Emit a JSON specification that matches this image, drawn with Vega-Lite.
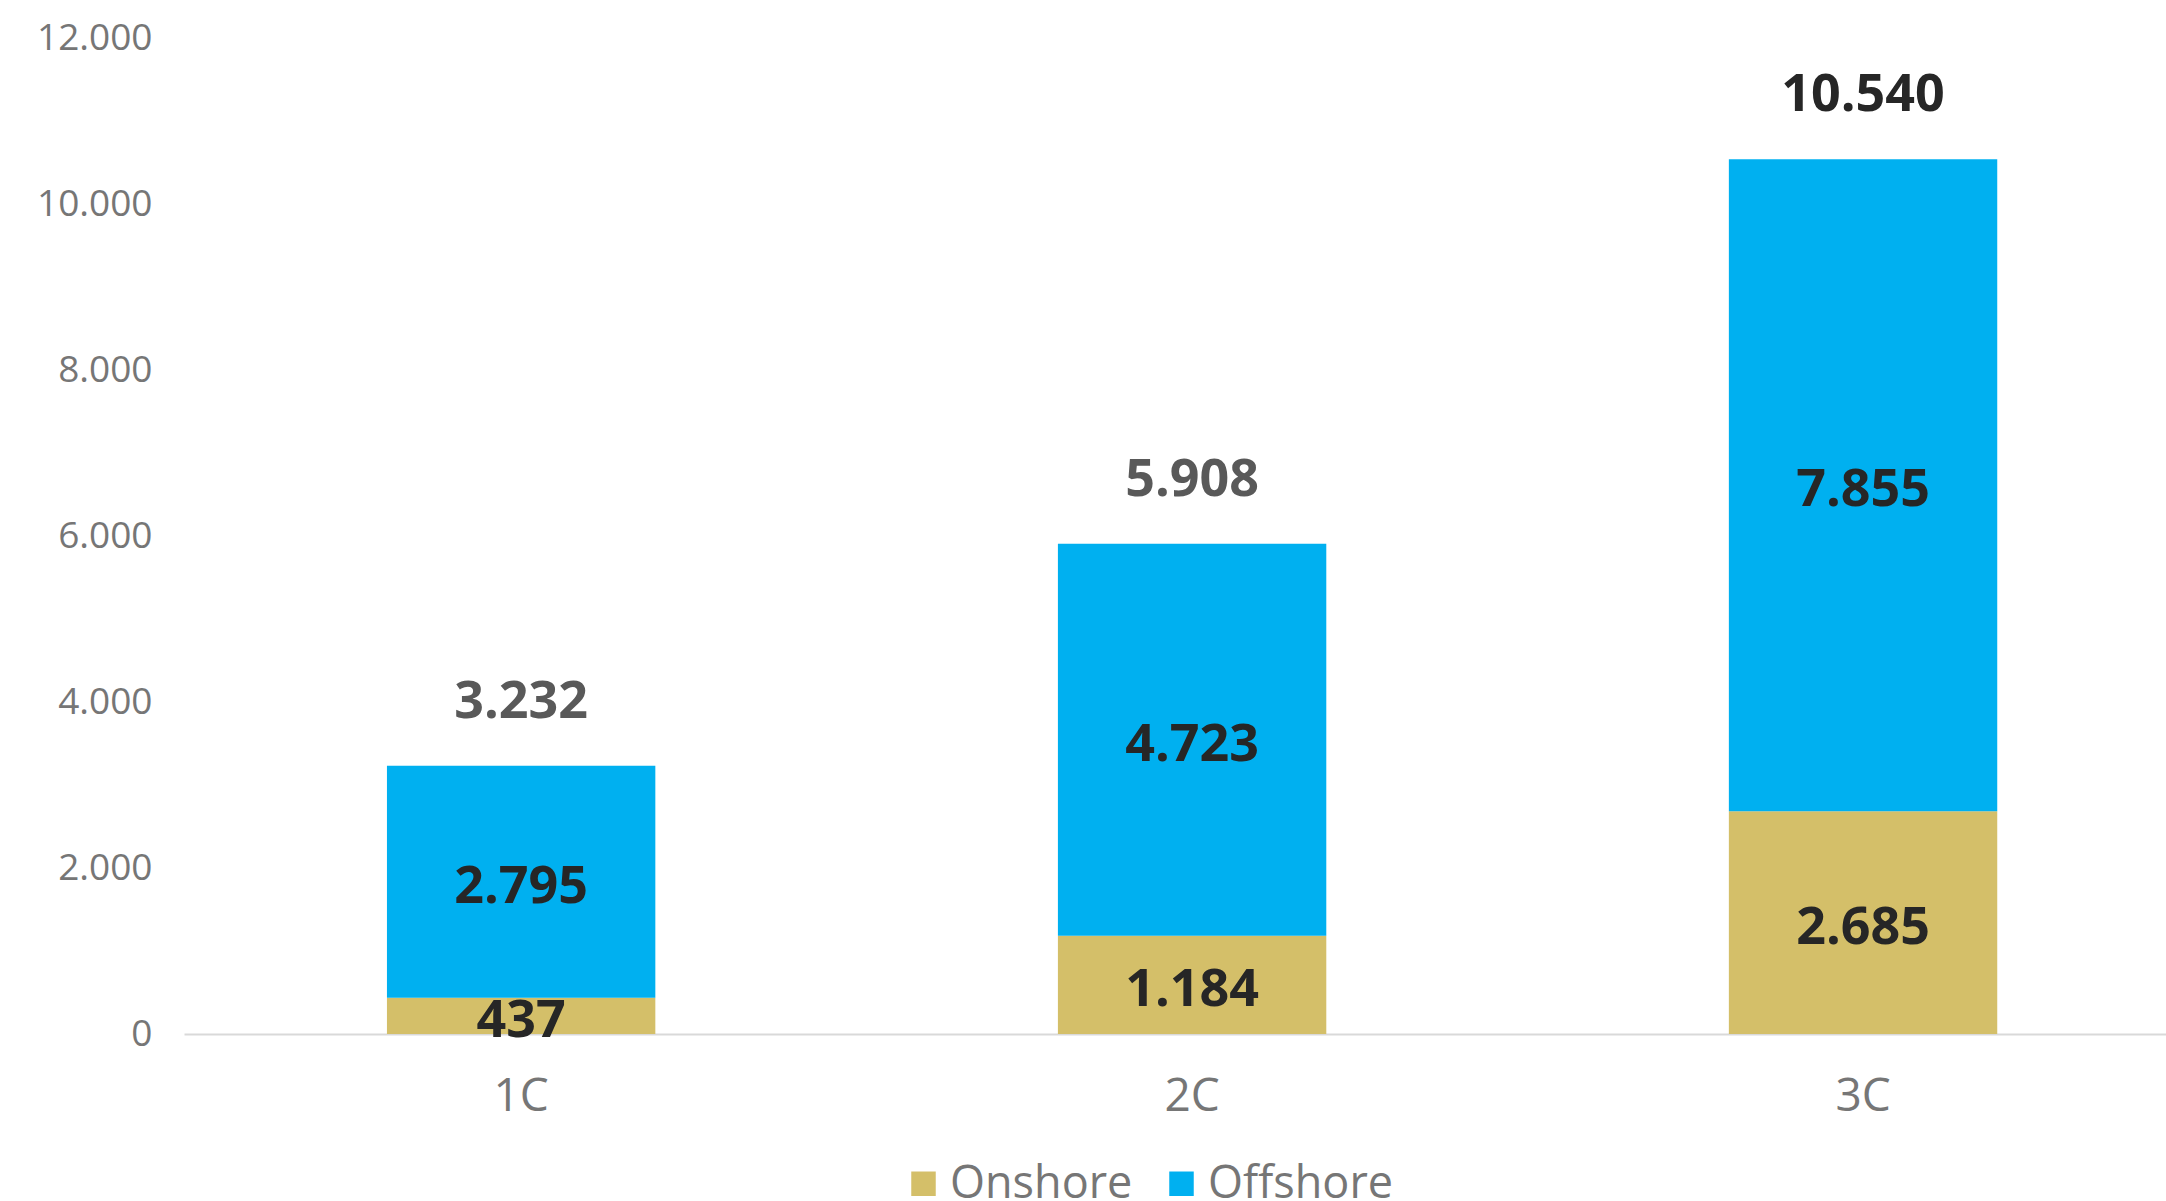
{
  "$schema": "https://vega.github.io/schema/vega-lite/v6.json",
  "width": 1982,
  "height": 996,
  "autosize": {"type": "none"},
  "padding": {"left": 184, "top": 38, "right": 0, "bottom": 167},
  "config": {
    "locale": {"number": {"decimal": ",", "thousands": ".", "grouping": [3], "currency": ["", "€"]}},
    "view": {"stroke": null},
    "font": "Open Sans"
  },
  "data": {
    "values": [
      {"scenario": "1C", "type": "Onshore", "value": 437},
      {"scenario": "1C", "type": "Offshore", "value": 2795},
      {"scenario": "2C", "type": "Onshore", "value": 1184.4},
      {"scenario": "2C", "type": "Offshore", "value": 4723.4},
      {"scenario": "3C", "type": "Onshore", "value": 2685},
      {"scenario": "3C", "type": "Offshore", "value": 7855}
    ]
  },
  "layer": [
    {
      "mark": {"type": "bar"},
      "encoding": {
        "x": {
          "field": "scenario",
          "type": "nominal",
          "scale": {"paddingInner": 0.6, "paddingOuter": 0.277, "align": 0.546},
          "axis": {
            "title": null,
            "labelAngle": 0,
            "labelFontSize": 46,
            "labelFont": "Open Sans",
            "labelColor": "#767676",
            "ticks": false,
            "tickSize": 0,
            "labelPadding": 76,
            "labelBaseline": "alphabetic",
            "domainColor": "#D9D9D9",
            "domainWidth": 2,
            "grid": false
          }
        },
        "y": {
          "field": "value",
          "type": "quantitative",
          "stack": "zero",
          "scale": {"domain": [0, 12000], "nice": false},
          "axis": {
            "title": null,
            "values": [0, 2000, 4000, 6000, 8000, 10000, 12000],
            "format": ",d",
            "labelFontSize": 37,
            "labelFont": "Open Sans",
            "labelColor": "#767676",
            "ticks": false,
            "tickSize": 0,
            "labelPadding": 32,
            "domain": false,
            "grid": false
          }
        },
        "color": {
          "field": "type",
          "type": "nominal",
          "scale": {"domain": ["Onshore", "Offshore"], "range": ["#D4BF69", "#00B0F0"]},
          "legend": {
            "title": null,
            "orient": "none",
            "legendX": 717,
            "legendY": 1123,
            "direction": "horizontal",
            "symbolType": "square",
            "symbolSize": 600,
            "symbolStrokeWidth": 0,
            "labelFontSize": 45,
            "labelFont": "Open Sans",
            "labelColor": "#767676",
            "labelOffset": 4,
            "labelLimit": 500,
            "columnPadding": 26,
            "padding": 0
          }
        },
        "order": {"field": "type", "sort": "descending"}
      }
    },
    {
      "transform": [
        {"stack": "value", "groupby": ["scenario"], "sort": [{"field": "type", "order": "descending"}], "as": ["v0", "v1"]},
        {"calculate": "(datum.v0 + datum.v1) / 2", "as": "mid"}
      ],
      "mark": {"type": "text", "fontSize": 52, "fontWeight": "bold", "font": "Open Sans", "color": "#262626", "baseline": "middle", "dy": 5},
      "encoding": {
        "x": {"field": "scenario", "type": "nominal"},
        "y": {"field": "mid", "type": "quantitative"},
        "text": {"field": "value", "type": "quantitative", "format": ",.0f"}
      }
    },
    {
      "transform": [
        {"aggregate": [{"op": "sum", "field": "value", "as": "total"}], "groupby": ["scenario"]}
      ],
      "mark": {"type": "text", "fontSize": 52, "fontWeight": "bold", "font": "Open Sans", "baseline": "middle", "dy": -64},
      "encoding": {
        "x": {"field": "scenario", "type": "nominal"},
        "y": {"field": "total", "type": "quantitative"},
        "text": {"field": "total", "type": "quantitative", "format": ",.0f"},
        "color": {"condition": {"test": "datum.total > 10000", "value": "#262626"}, "value": "#595959"}
      }
    }
  ]
}
